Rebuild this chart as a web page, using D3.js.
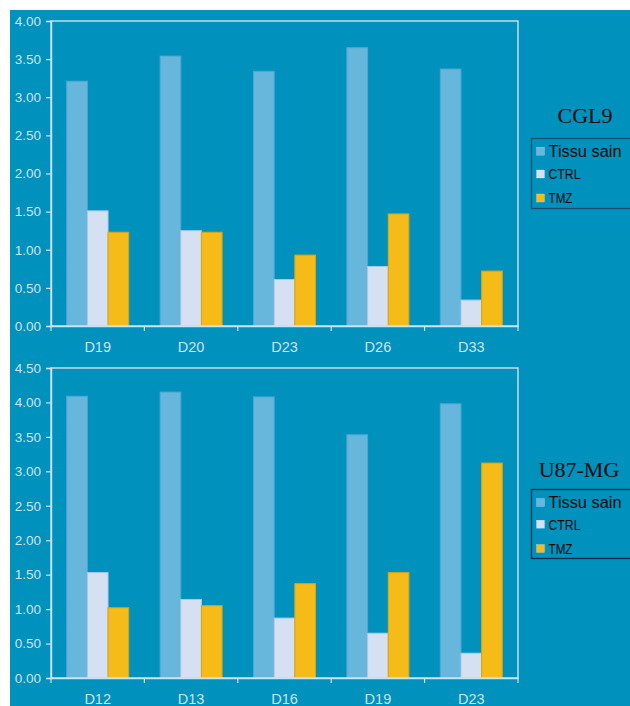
<!DOCTYPE html>
<html>
<head>
<meta charset="utf-8">
<script src="https://cdn.jsdelivr.net/npm/d3@7"></script>
<style>
  html, body { margin: 0; padding: 0; background: #ffffff; }
  svg { display: block; }
</style>
</head>
<body>
<svg id="chart" width="630" height="706"></svg>
<script>
// ---- data ----
const seriesNames = ["Tissu sain", "CTRL", "TMZ"];
const categoriesCGL9 = ["D19", "D20", "D23", "D26", "D33"];
const tissuCGL9 = [3.21, 3.54, 3.34, 3.65, 3.37];
const ctrlCGL9  = [1.51, 1.25, 0.61, 0.78, 0.34];
const tmzCGL9   = [1.23, 1.23, 0.93, 1.47, 0.72];
const yTicksCGL9 = [0, 0.5, 1, 1.5, 2, 2.5, 3, 3.5, 4];

const categoriesU87 = ["D12", "D13", "D16", "D19", "D23"];
const tissuU87 = [4.09, 4.15, 4.08, 3.53, 3.98];
const ctrlU87  = [1.53, 1.14, 0.87, 0.65, 0.36];
const tmzU87   = [1.02, 1.05, 1.37, 1.53, 3.12];
const yTicksU87 = [0, 0.5, 1, 1.5, 2, 2.5, 3, 3.5, 4, 4.5];

// ---- styles ----
const fills   = ["#67b6dc", "#d6e0f3", "#f5bb18"];
const strokes = ["#4fa8d3", "#a9c9e6", "#d9a514"];
const axisColor = "#cfe2ee";
const textColor = "#cfe3ef";

const svg = d3.select("#chart");
svg.append("rect").attr("x", 10).attr("y", 10).attr("width", 620).attr("height", 696).attr("fill", "#0091bd");

function drawChart(cfg) {
  const { categories, values, yTicks, yMax, top, bottom, left, right, title, legend } = cfg;
  const g = svg.append("g");
  const x0 = d3.scaleBand().domain(categories).range([left, right]).padding(0);
  const x1 = d3.scaleBand().domain(seriesNames).range([0, x0.bandwidth()]).paddingInner(0).paddingOuter(0.76);
  const y = d3.scaleLinear().domain([0, yMax]).range([bottom, top]);

  // bars
  seriesNames.forEach((s, si) => {
    g.append("g").selectAll("rect").data(categories).join("rect")
      .attr("x", d => x0(d) + x1(s))
      .attr("y", (d, i) => y(values[si][i]))
      .attr("width", x1.bandwidth())
      .attr("height", (d, i) => y(0) - y(values[si][i]))
      .attr("fill", fills[si])
      .attr("stroke", strokes[si])
      .attr("stroke-width", 1);
  });

  // frame
  g.append("rect").attr("x", left).attr("y", top).attr("width", right - left).attr("height", bottom - top)
    .attr("fill", "none").attr("stroke", axisColor).attr("stroke-width", 1.4);

  // y axis
  const yAxis = d3.axisLeft(y).tickValues(yTicks).tickFormat(d3.format(".2f")).tickSize(5).tickPadding(5);
  const ya = g.append("g").attr("transform", `translate(${left},0)`).call(yAxis);
  ya.select(".domain").attr("stroke", axisColor).attr("stroke-width", 1.4);
  ya.selectAll(".tick line").attr("stroke", axisColor).attr("stroke-width", 1.2);
  ya.selectAll(".tick text").attr("fill", textColor).attr("font-family", "Liberation Sans, Arial, sans-serif").attr("font-size", 13.5);

  // x axis: boundary ticks
  const xa = g.append("g").attr("transform", `translate(0,${bottom})`).call(d3.axisBottom(x0).tickSize(0).tickPadding(16));
  xa.select(".domain").attr("stroke", axisColor).attr("stroke-width", 1.4);
  xa.selectAll(".tick text").attr("fill", textColor).attr("font-family", "Liberation Sans, Arial, sans-serif").attr("font-size", 14.5);
  const bounds = categories.map(c => x0(c)).concat([x0.range()[1]]);
  g.append("g").selectAll("line").data(bounds).join("line")
    .attr("x1", d => d).attr("x2", d => d).attr("y1", bottom).attr("y2", bottom + 5)
    .attr("stroke", axisColor).attr("stroke-width", 1.2);

  // title
  g.append("text").attr("x", title.x).attr("y", title.y).attr("text-anchor", "middle")
    .attr("font-family", "Liberation Serif, Times New Roman, serif").attr("font-size", 22)
    .attr("fill", "#0a0a0a").text(title.text);

  // legend
  const lg = g.append("g");
  lg.append("rect").attr("x", legend.x).attr("y", legend.y).attr("width", 110).attr("height", legend.h)
    .attr("fill", "none").attr("stroke", legend.stroke).attr("stroke-width", 1.3);
  const sizes = [16, 15, 15];
  const lens = [73, 32, 24];
  seriesNames.forEach((s, si) => {
    const cy = legend.y + legend.offsets[si];
    lg.append("rect").attr("x", legend.x + 5).attr("y", cy - 4).attr("width", 8).attr("height", 8)
      .attr("fill", fills[si]).attr("stroke", "#ffffff").attr("stroke-width", 0.4).attr("stroke-opacity", 0.5);
    lg.append("text").attr("x", legend.x + 17).attr("y", cy).attr("dy", "0.36em")
      .attr("font-family", "Liberation Sans, Arial, sans-serif").attr("font-size", sizes[si])
      .attr("textLength", lens[si]).attr("lengthAdjust", "spacingAndGlyphs")
      .attr("fill", "#0a0a0a").text(s);
  });
}

drawChart({
  categories: categoriesCGL9,
  values: [tissuCGL9, ctrlCGL9, tmzCGL9],
  yTicks: yTicksCGL9, yMax: 4,
  top: 21, bottom: 326, left: 51, right: 518,
  title: { text: "CGL9", x: 585, y: 123 },
  legend: { x: 531.5, y: 138.5, h: 70, offsets: [12.7, 35.5, 59.5], stroke: "#16506f" }
});

drawChart({
  categories: categoriesU87,
  values: [tissuU87, ctrlU87, tmzU87],
  yTicks: yTicksU87, yMax: 4.5,
  top: 368, bottom: 678, left: 51, right: 518,
  title: { text: "U87-MG", x: 579, y: 477 },
  legend: { x: 531.5, y: 489.5, h: 69, offsets: [13, 34.7, 59], stroke: "#0c2d44" }
});
</script>
</body>
</html>
